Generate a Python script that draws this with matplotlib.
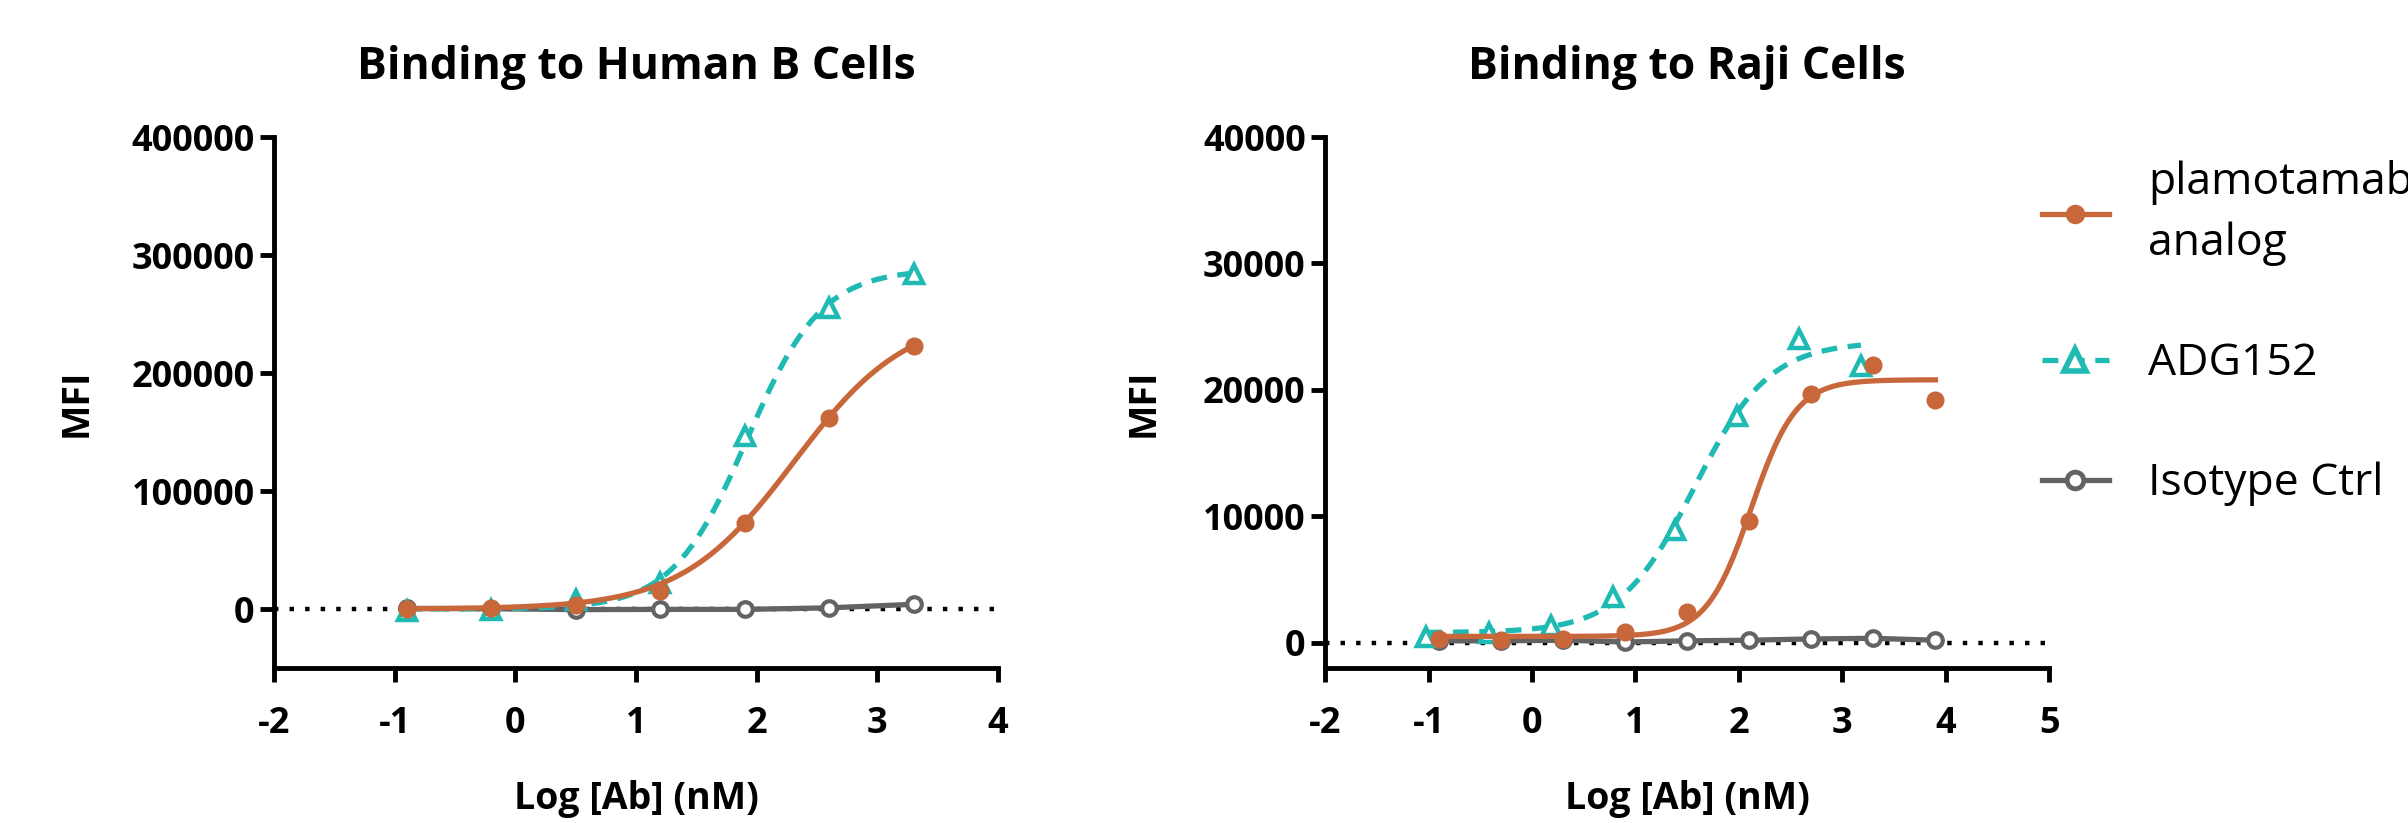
import numpy as np
import matplotlib.pyplot as plt
from matplotlib.lines import Line2D

plt.rcParams['font.family'] = ['Open Sans', 'DejaVu Sans']

# ---- Binding to Human B Cells ----
hb_x = [-0.9, -0.2, 0.5, 1.2, 1.9, 2.6, 3.3]
hb_plamo = [0, 500, 3000, 15000, 73000, 162000, 223000]
hb_adg = [-2000, -1000, 8000, 22000, 147000, 255000, 284000]
hb_iso = [500, 300, -500, -300, -300, 1000, 4000]
# 4PL fit: bottom, top, logEC50, hill
hb_plamo_fit = [0, 250000, 2.31, 0.93]
hb_adg_fit = [0, 288000, 1.92, 1.4]

# ---- Binding to Raji Cells ----
raji_x = [-0.9, -0.3, 0.3, 0.9, 1.5, 2.1, 2.7, 3.3, 3.9]
raji_plamo = [300, 250, 300, 850, 2400, 9600, 19700, 22000, 19200]
raji_x_adg = [-1.02, -0.42, 0.18, 0.78, 1.38, 1.98, 2.58, 3.18]
raji_adg = [450, 750, 1350, 3600, 8900, 17900, 24000, 21900]
raji_iso = [150, 150, 200, 60, 150, 200, 300, 350, 200]
raji_plamo_fit = [500, 20800, 2.12, 2.0]
raji_adg_fit = [800, 23800, 1.57, 1.2]

series_names = ['plamotamab\nanalog', 'ADG152', 'Isotype Ctrl']
c_plamo = '#C8673A'
c_adg = '#1EBAB3'
c_iso = '#636363'


def four_pl(x, p):
    bottom, top, ec50, hill = p
    return bottom + (top - bottom) / (1 + 10 ** ((ec50 - x) * hill))


def draw_panel(ax, title, x_p, y_p, fit_p, x_a, y_a, fit_a, y_i,
               xlim, ylim, yticks):
    ax.axhline(0, color='black', lw=3.2, ls=(0, (1, 2.5)), zorder=1)

    # isotype: plain connected points
    ax.plot(x_p, y_i, color=c_iso, lw=3.8, marker='o', ms=10.5, mfc='white',
            mec=c_iso, mew=3, zorder=2)

    xs = np.linspace(min(x_a), max(x_a), 200)
    ax.plot(xs, four_pl(xs, fit_a), color=c_adg, lw=3.8, ls=(0, (3, 2)), zorder=3)
    ax.plot(x_a, y_a, ls='none', marker='^', ms=13.5, mfc='white', mec=c_adg,
            mew=3.2, zorder=4)

    xs = np.linspace(min(x_p), max(x_p), 200)
    ax.plot(xs, four_pl(xs, fit_p), color=c_plamo, lw=3.8, zorder=5)
    ax.plot(x_p, y_p, ls='none', marker='o', ms=12, color=c_plamo, zorder=6)

    ax.set_xlim(*xlim)
    ax.set_ylim(*ylim)
    ax.set_xticks(range(xlim[0], xlim[1] + 1))
    ax.set_xticklabels([str(v) for v in range(xlim[0], xlim[1] + 1)])
    ax.set_yticks(yticks)
    ax.set_yticklabels([str(v) for v in yticks])
    for s in ['top', 'right']:
        ax.spines[s].set_visible(False)
    for s in ['left', 'bottom']:
        ax.spines[s].set_linewidth(3.5)
    ax.tick_params(axis='both', width=3.5, length=10, labelsize=26)
    ax.tick_params(axis='x', pad=17)
    ax.tick_params(axis='y', pad=4)
    for lab in ax.get_xticklabels() + ax.get_yticklabels():
        lab.set_fontweight('bold')
    ax.set_xlabel('Log [Ab] (nM)', fontsize=27, fontweight='bold')
    ax.set_ylabel('MFI', fontsize=27, fontweight='bold')
    ax.xaxis.label.set_va('center')
    ax.yaxis.label.set_va('center')
    ax.xaxis.set_label_coords(0.5, -0.247)
    ax.text(0.5, 1.109, title, transform=ax.transAxes, ha='center',
            va='baseline', fontsize=32, fontweight='bold')


fig = plt.figure(figsize=(24.08, 8.23), dpi=100)
ax1 = fig.add_axes([0.1138, 0.1883, 0.3007, 0.6452])
ax2 = fig.add_axes([0.5503, 0.1883, 0.3007, 0.6452])

draw_panel(ax1, 'Binding to Human B Cells', hb_x, hb_plamo, hb_plamo_fit,
           hb_x, hb_adg, hb_adg_fit, hb_iso, (-2, 4), (-50000, 400000),
           [0, 100000, 200000, 300000, 400000])
ax1.yaxis.set_label_coords(-0.272, 0.5)

draw_panel(ax2, 'Binding to Raji Cells', raji_x, raji_plamo, raji_plamo_fit,
           raji_x_adg, raji_adg, raji_adg_fit, raji_iso, (-2, 5), (-2000, 40000),
           [0, 10000, 20000, 30000, 40000])
ax2.yaxis.set_label_coords(-0.25, 0.5)

handles = [
    Line2D([], [], color=c_plamo, lw=3.8, marker='o', ms=13),
    Line2D([], [], color=c_adg, lw=3.8, ls=(0, (3, 2)), marker='^', ms=16,
           mfc='white', mew=4),
    Line2D([], [], color=c_iso, lw=3.8, marker='o', ms=12, mfc='white', mew=3.5),
]
leg = fig.legend(handles, series_names, loc='upper left',
                 bbox_to_anchor=(2042 / 2408, 1 - 160 / 823), frameon=False,
                 fontsize=32, handlelength=1.5, handletextpad=0.88,
                 labelspacing=1.7, borderpad=0, borderaxespad=0)
for t in leg.get_texts():
    t.set_linespacing(1.5)

fig.savefig('out.png', dpi=100)
